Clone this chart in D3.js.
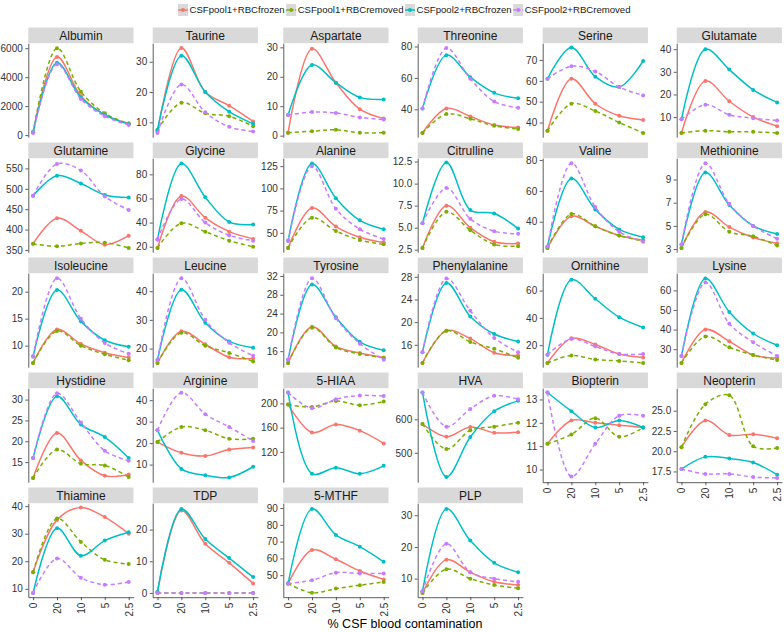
<!DOCTYPE html>
<html><head><meta charset="utf-8">
<script src="https://cdn.jsdelivr.net/npm/d3@7"></script>
<style>
body{margin:0;background:#fff}
svg{display:block;font-family:"Liberation Sans",Arial,Helvetica,sans-serif}
</style>
</head><body>
<svg id="chart" width="784" height="632"></svg>
<script>
const panels = ["Albumin","Taurine","Aspartate","Threonine","Serine","Glutamate",
  "Glutamine","Glycine","Alanine","Citrulline","Valine","Methionine",
  "Isoleucine","Leucine","Tyrosine","Phenylalanine","Ornithine","Lysine",
  "Hystidine","Arginine","5-HIAA","HVA","Biopterin","Neopterin",
  "Thiamine","TDP","5-MTHF","PLP"];
const xLabels = ["0","20","10","5","2.5"];
const seriesNames = ["CSFpool1+RBCfrozen","CSFpool1+RBCremoved","CSFpool2+RBCfrozen","CSFpool2+RBCremoved"];

const pool1Frozen = [
  [200,5400,2700,1400,800],[7,34.5,20,15.5,10.3],[1,29.5,18,9,5.8],[25,40.5,35.5,30,28.5],[36,61,49,43.2,41.2],[3,26,17,10,6],
  [365,428,397,363,385],[19,62,44,32.5,26.5],[33,78,57,45,39],[2.7,7.5,5,3.4,3.2],[23,43.5,37,31,28],[3.1,6.2,4.9,4,3.5],
  [6.8,13,10.3,8.7,7.8],[15,26,21.5,17,16.5],[13.5,21.2,17,15.6,14.6],[12.8,18.5,17.1,14.6,14.1],[7,25,20.5,13.5,11],[23,40,34,27,25.5],
  [11.2,22,15.4,11.7,12],[20.5,15.5,14,17,18],[198,152,165,155,134],[586,548,577,560,561],[11.1,12.1,12.0,11.9,11.8],[20.5,23.8,22,22.1,21.6],
  [16,35,39.5,36,30],[0.3,26,15.5,9.5,3],[45,65,59.5,52.5,47.5],[5.5,16,12,9,8]
];
const pool1Removed = [
  [200,6000,3000,1500,800],[7.5,16.5,13,12,8.7],[1,1.5,2,1,1],[25,37,34,29.5,27.5],[36,49,45.5,40,35],[3,4,3.5,3.5,3],
  [365,359,366,368,355],[19,39.5,32.5,25,20],[33,67,52,42,37],[2.7,6.8,4.7,3.1,2.9],[23,45,37,31,27.5],[3.1,6,4.5,4.1,3.3],
  [6.8,12.7,10,8.4,7.3],[15,25.5,21,18.5,15.5],[13.5,21,16.8,15.4,14.6],[12.8,18.5,16.5,15.3,13.7],[7,12.5,9.5,8.5,7],[23,36.5,31,27,24.5],
  [11.2,18,14.6,14.2,11.4],[20.5,27.5,26,22,22],[198,194,204,197,203],[586,511,567,578,590],[11.1,11.5,12.2,11.4,11.8],[20.5,25.8,26.9,20.6,20.4],
  [16,35.5,27,20.5,19],[0,0,0,0,0],[45,39.5,42,44,46],[5.5,13,10,8,7]
];
const pool2Frozen = [
  [200,5000,2600,1400,750],[7.5,32,20,13.5,9.5],[7,24,18,13,12.3],[40.5,74.5,60.5,50.5,47],[61,76,62,57,69.5],[9,40,31,22,16.5],
  [483,532,513,485,479],[26,89,61,40.5,38.5],[41,128,89,64,54],[5.5,12.4,7,6.6,4.9],[24,68,48,35,30],[3.4,9.6,6.8,5,4.3],
  [8,20.3,14.5,11,9.8],[16,40.5,29,22.5,20.3],[14.2,30.2,23.2,18,16.2],[14.7,26.9,21,17.9,16.6],[13,68,54,40.5,33],[26.5,66,49,38,32],
  [16,30.8,24,21,16],[26,8,5,4,9],[218,84,94,84,97],[680,428,547,624,655],[13.3,12.5,11.8,12.1,11.8],[17.8,19.3,19.1,18.6,17.1],
  [8.5,32,22,27.5,30.5],[0.3,26.5,17,11,5],[45,89.5,74,67,58],[6,32,22,15,12]
];
const pool2Removed = [
  [150,4900,2500,1300,700],[6.5,22.5,13.3,8.5,7],[7,8,7.7,6.2,5.5],[40.5,79,59.5,45,41],[61,67,64.5,57,53],[9,15.5,11,9.5,8.5],
  [483,561,545,481,448],[26,59.5,40,29.5,25],[41,125,77,54,43],[5.5,9.5,6,4.6,4.3],[24,78,49.5,33.5,27],[3.4,10.4,6.9,5,3.9],
  [8,22.5,15,10.5,8.5],[16,44.5,30,22,17.5],[14.2,31.5,23,17.6,14.2],[14.7,27.7,22,17.2,14.7],[13,24.5,19,13.5,13.5],[26.5,64,43,33.5,26.5],
  [16,31.5,24.5,17.7,15.3],[26,43.5,33.5,27.5,21],[218,192,207,213,212],[680,578,631,670,660],[13.3,9.7,11.1,12.3,12.3],[17.8,17.2,17.2,16.8,16.7],
  [8.5,21,14,11.5,12.5],[0,0,0,0,0],[45,47,51.5,51,51],[6,21,12,10,9]
];
const yTickLabels = [
  ["0","2000","4000","6000"],["10","20","30"],["0","10","20","30"],["40","60","80"],["40","50","60","70"],["10","20","30","40"],
  ["350","400","450","500","550"],["20","40","60","80"],["50","75","100","125"],["2.5","5.0","7.5","10.0","12.5"],["40","60","80"],["3","5","7","9"],
  ["10","15","20"],["20","30","40"],["16","20","24","28","32"],["16","20","24","28"],["20","40","60"],["30","40","50","60"],
  ["15","20","25","30"],["10","20","30","40"],["120","160","200"],["500","600"],["10","11","12","13"],["17.5","20.0","22.5","25.0"],
  ["10","20","30","40"],["0","10","20"],["50","60","70","80","90"],["10","20","30"]
];

const allSeries = [pool1Frozen, pool1Removed, pool2Frozen, pool2Removed];
const colors = ["#F8766D","#7CAE00","#00BFC4","#C77CFF"];
const dashes = [null,"4,3",null,"4,3"];

// uniform Catmull-Rom samples, used only to size the y-range
function curveSamples(y){
  const n=y.length, out=[];
  for(let i=0;i<n-1;i++){
    const p0=y[Math.max(0,i-1)], p1=y[i], p2=y[i+1], p3=y[Math.min(n-1,i+2)];
    for(let k=0;k<=10;k++){const t=k/10;
      out.push(0.5*((2*p1)+(-p0+p2)*t+(2*p0-5*p1+4*p2-p3)*t*t+(-p0+3*p1-3*p2+p3)*t*t*t));}
  }
  return out;
}

const svg = d3.select("#chart");
const colLeft = [28.3,152.7,283.3,417.7,542.7,676.7];
const panelW = 105.2, stripH = 15.7, plotH = 94, rowStep = 115, firstTop = 27.5;
const xAxisPanels = new Set([22,23,24,25,26,27]);
const xIdx = [1,2,3,4,5];

panels.forEach((name,p)=>{
  const r=Math.floor(p/6), c=p%6;
  const x0=colLeft[c], top=firstTop+r*rowStep, py0=top+stripH, py1=py0+plotH;
  const g=svg.append("g");
  const xs=d3.scaleLinear().domain([0.8,5.2]).range([x0,x0+panelW]);
  let vals=[];
  allSeries.forEach(s=>{vals=vals.concat(s[p],curveSamples(s[p]));});
  const [lo,hi]=d3.extent(vals); const pad=(hi-lo)*0.05;
  const ys=d3.scaleLinear().domain([lo-pad,hi+pad]).range([py1,py0]);

  g.append("rect").attr("x",x0).attr("y",top).attr("width",panelW).attr("height",stripH).attr("fill","#D9D9D9");
  g.append("text").attr("x",x0+panelW/2).attr("y",top+stripH/2).attr("dy","0.36em")
    .attr("text-anchor","middle").attr("font-size",12).attr("fill","#1a1a1a").text(name);

  const labels=yTickLabels[p];
  const dom=ys.domain();
  const tv=labels.map(Number).filter(v=>v>=dom[0]&&v<=dom[1]);
  const ya=g.append("g").attr("transform",`translate(${x0},0)`)
    .call(d3.axisLeft(ys).tickValues(tv).tickSize(3).tickSizeOuter(0).tickPadding(2.5)
      .tickFormat(v=>labels[labels.map(Number).indexOf(v)]));
  ya.select(".domain").attr("stroke","#333").attr("stroke-width",0.8);
  ya.selectAll(".tick line").attr("stroke","#333").attr("stroke-width",0.8);
  ya.selectAll("text").attr("font-size",10).attr("fill","#333").attr("font-family",null);

  if(xAxisPanels.has(p)){
    const xa=g.append("g").attr("transform",`translate(0,${py1})`)
      .call(d3.axisBottom(xs).tickValues(xIdx).tickSize(3).tickSizeOuter(0).tickFormat((d,i)=>xLabels[i]));
    xa.select(".domain").attr("stroke","#333").attr("stroke-width",0.8);
    xa.selectAll(".tick line").attr("stroke","#333").attr("stroke-width",0.8);
    xa.selectAll("text").attr("font-size",10).attr("fill","#333").attr("font-family",null)
      .attr("transform","rotate(-90)").attr("text-anchor","end").attr("x",-5.5).attr("y",0).attr("dy","0.35em");
  }

  const line=d3.line().x((d,i)=>xs(xIdx[i])).y(d=>ys(d)).curve(d3.curveCatmullRom.alpha(0.5));
  allSeries.forEach((s,k)=>{
    const sg=g.append("g");
    sg.append("path").attr("d",line(s[p])).attr("fill","none").attr("stroke",colors[k])
      .attr("stroke-width",1.5).attr("stroke-dasharray",dashes[k]);
    sg.selectAll("circle").data(s[p]).join("circle")
      .attr("cx",(d,i)=>xs(xIdx[i])).attr("cy",d=>ys(d)).attr("r",2).attr("fill",colors[k]);
  });
});

svg.append("text").attr("x",405).attr("y",628).attr("text-anchor","middle")
  .attr("font-size",12.5).attr("fill","#000").text("% CSF blood contamination");

const leg=svg.append("g");
let lx=0;
const keyW=10, keyH=12;
seriesNames.forEach((nm,k)=>{
  const it=leg.append("g").attr("transform",`translate(${lx},0)`);
  it.append("rect").attr("x",0).attr("y",-keyH/2).attr("width",keyW).attr("height",keyH).attr("fill","#D9D9D9");
  it.append("line").attr("x1",0).attr("x2",keyW).attr("y1",0).attr("y2",0).attr("stroke",colors[k]).attr("stroke-width",1.5)
    .attr("stroke-dasharray",dashes[k]?"3,1.5":null);
  it.append("circle").attr("cx",keyW/2).attr("cy",0).attr("r",2).attr("fill",colors[k]);
  const t=it.append("text").attr("x",keyW+1.5).attr("y",0).attr("dy","0.35em").attr("font-size",9.6).attr("fill","#1a1a1a").text(nm);
  lx+=keyW+1.5+t.node().getComputedTextLength()+1.5;
});
leg.attr("transform",`translate(${405-lx/2},10)`);
</script>
</body></html>
